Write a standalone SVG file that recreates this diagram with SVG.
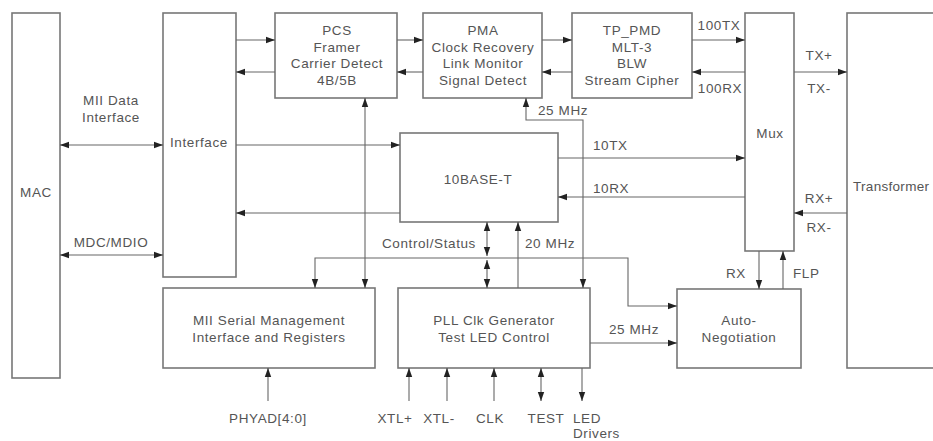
<svg xmlns="http://www.w3.org/2000/svg" width="933" height="441" viewBox="0 0 933 441">
<defs>
<marker id="ah" markerUnits="userSpaceOnUse" markerWidth="10" markerHeight="8" refX="9" refY="4" orient="auto-start-reverse">
<path d="M0,0.8 L9,4 L0,7.2 z" fill="#222"/>
</marker>
<style>
.box{fill:#fff;stroke:#777;stroke-width:1.6}
.ln{fill:none;stroke:#666;stroke-width:1.1}
.a{marker-end:url(#ah)}
.d{marker-start:url(#ah);marker-end:url(#ah)}
text{font-family:"Liberation Sans",Arial,sans-serif;font-size:13.5px;letter-spacing:0.6px;fill:#555}
.c{text-anchor:middle}
</style>
</defs>
<rect width="933" height="441" fill="#fff"/>
<g id="mac"><rect class="box" x="12" y="13" width="48" height="365"/><text class="c" x="36" y="197">MAC</text></g>
<g id="interface"><rect class="box" x="163" y="13" width="73" height="264"/><text x="170" y="147">Interface</text></g>
<g id="pcs"><rect class="box" x="275" y="13" width="122" height="85"/>
<text class="c" x="337" y="35">PCS</text><text class="c" x="337" y="52">Framer</text><text class="c" x="337" y="68">Carrier Detect</text><text class="c" x="337" y="85">4B/5B</text></g>
<g id="pma"><rect class="box" x="423" y="13" width="119" height="85"/>
<text class="c" x="483" y="35">PMA</text><text class="c" x="483" y="52">Clock Recovery</text><text class="c" x="483" y="68">Link Monitor</text><text class="c" x="483" y="85">Signal Detect</text></g>
<g id="tppmd"><rect class="box" x="572" y="13" width="120" height="85"/>
<text class="c" x="632" y="35">TP_PMD</text><text class="c" x="632" y="52">MLT-3</text><text class="c" x="632" y="68">BLW</text><text class="c" x="632" y="85">Stream Cipher</text></g>
<g id="mux"><rect class="box" x="745" y="13" width="49" height="238"/><text class="c" x="770" y="138">Mux</text></g>
<g id="transformer"><rect class="box" x="847" y="13" width="100" height="355"/><text x="853" y="191" style="letter-spacing:0.3px">Transformer</text></g>
<g id="tenbase"><rect class="box" x="400" y="133" width="158" height="89"/><text class="c" x="478" y="184">10BASE-T</text></g>
<g id="miiserial"><rect class="box" x="163" y="288" width="212" height="80"/>
<text class="c" x="269" y="325">MII Serial Management</text><text class="c" x="269" y="342">Interface and Registers</text></g>
<g id="pll"><rect class="box" x="398" y="288" width="192" height="80"/>
<text class="c" x="494" y="325">PLL Clk Generator</text><text class="c" x="494" y="342">Test LED Control</text></g>
<g id="autoneg"><rect class="box" x="677" y="289" width="124" height="79"/>
<text class="c" x="739" y="325">Auto-</text><text class="c" x="739" y="342">Negotiation</text></g>
<g id="connectors">
<line class="ln d" x1="60" y1="145" x2="163" y2="145"/>
<line class="ln d" x1="60" y1="255" x2="163" y2="255"/>
<line class="ln a" x1="236" y1="40" x2="275" y2="40"/>
<line class="ln a" x1="275" y1="72" x2="236" y2="72"/>
<line class="ln a" x1="397" y1="40" x2="423" y2="40"/>
<line class="ln a" x1="423" y1="72" x2="397" y2="72"/>
<line class="ln a" x1="542" y1="40" x2="572" y2="40"/>
<line class="ln a" x1="572" y1="72" x2="542" y2="72"/>
<line class="ln a" x1="692" y1="40" x2="745" y2="40"/>
<line class="ln a" x1="745" y1="72" x2="692" y2="72"/>
<line class="ln a" x1="794" y1="72" x2="847" y2="72"/>
<line class="ln a" x1="847" y1="213" x2="794" y2="213"/>
<line class="ln a" x1="236" y1="145" x2="400" y2="145"/>
<line class="ln a" x1="400" y1="213" x2="236" y2="213"/>
<line class="ln d" x1="365" y1="98" x2="365" y2="288"/>
<polyline class="ln a" points="583,288 583,120 526,120 526,98" style="marker-start:url(#ah)"/>
<line class="ln a" x1="558" y1="158" x2="745" y2="158"/>
<line class="ln a" x1="745" y1="197" x2="558" y2="197"/>
<polyline class="ln a" points="315,288 315,258 628,258 628,306 677,306" style="marker-start:url(#ah)"/>
<line class="ln d" x1="487" y1="222" x2="487" y2="256"/>
<line class="ln d" x1="487" y1="260" x2="487" y2="288"/>
<line class="ln a" x1="518" y1="288" x2="518" y2="222"/>
<line class="ln a" x1="759" y1="251" x2="759" y2="289"/>
<line class="ln a" x1="783" y1="289" x2="783" y2="251"/>
<line class="ln a" x1="590" y1="343" x2="677" y2="343"/>
<line class="ln a" x1="268" y1="401" x2="268" y2="368"/>
<line class="ln a" x1="409" y1="401" x2="409" y2="368"/>
<line class="ln a" x1="447" y1="401" x2="447" y2="368"/>
<line class="ln a" x1="494" y1="401" x2="494" y2="368"/>
<line class="ln d" x1="541" y1="368" x2="541" y2="401"/>
<line class="ln a" x1="582" y1="368" x2="582" y2="401"/>
</g>
<g id="labels">
<text class="c" x="111" y="105">MII Data</text><text class="c" x="111" y="122">Interface</text>
<text class="c" x="111" y="247">MDC/MDIO</text>
<text class="c" x="719" y="30">100TX</text><text class="c" x="720" y="93">100RX</text>
<text class="c" x="819" y="60">TX+</text><text class="c" x="819" y="93">TX-</text>
<text class="c" x="819" y="203">RX+</text><text class="c" x="819" y="232">RX-</text>
<text x="538" y="115">25 MHz</text>
<text x="593" y="150">10TX</text><text x="593" y="193">10RX</text>
<text x="382" y="248">Control/Status</text>
<text x="525" y="248">20 MHz</text>
<text class="c" x="736" y="278">RX</text><text x="793" y="278">FLP</text>
<text class="c" x="634" y="334">25 MHz</text>
<text class="c" x="268" y="423">PHYAD[4:0]</text>
<text class="c" x="395" y="423">XTL+</text><text class="c" x="439" y="423">XTL-</text>
<text class="c" x="490" y="423">CLK</text><text class="c" x="546" y="423">TEST</text>
<text x="573" y="423">LED</text><text x="573" y="438">Drivers</text>
</g>
</svg>
